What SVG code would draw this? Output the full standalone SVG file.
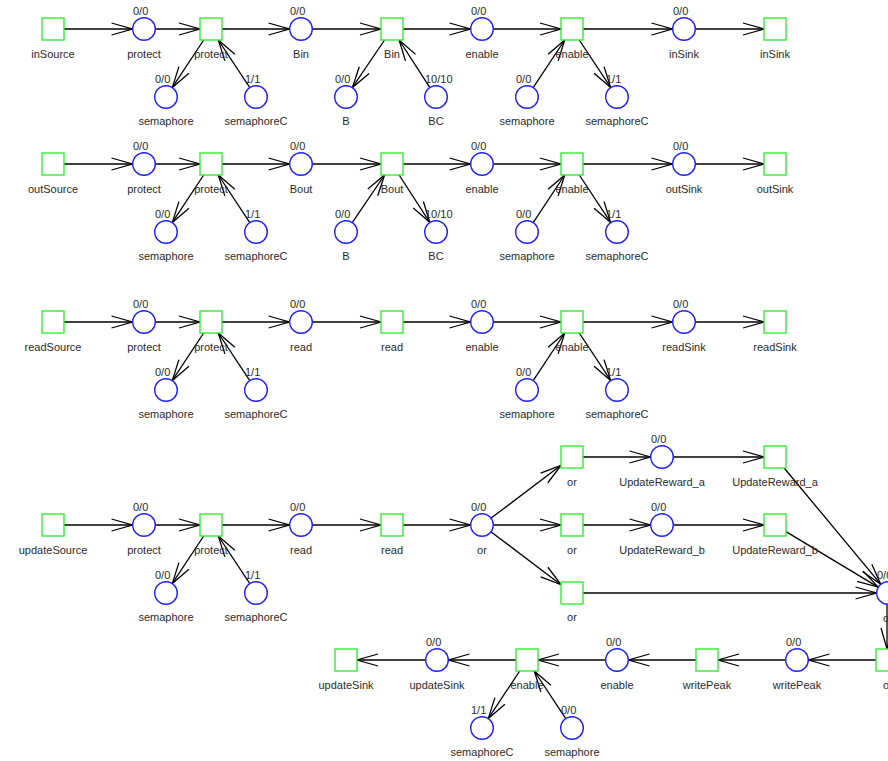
<svg xmlns="http://www.w3.org/2000/svg" width="888" height="761" viewBox="0 0 888 761">
<style>
.p{fill:#fff;stroke:#1f1fff;stroke-width:1.4}
.t{fill:#fff;stroke:#33ee33;stroke-width:1.4}
text{font-family:"Liberation Sans",Arial,sans-serif;font-size:11px;fill:#2a2a2a}
.n{text-anchor:middle}
.m{text-anchor:start}
#edges line{stroke:#000;stroke-width:1.3;marker-end:url(#arr)}
</style>
<defs>
<marker id="arr" markerUnits="userSpaceOnUse" markerWidth="30" markerHeight="20" refX="0" refY="0" orient="auto" viewBox="-25 -10 30 20" overflow="visible">
<path d="M-21,-6 L0,0 L-21,6" fill="none" stroke="#000" stroke-width="1.3"/>
</marker>
</defs>
<rect width="888" height="761" fill="#fff"/>
<g id="edges">
<line x1="64" y1="29" x2="132.5" y2="29"/>
<line x1="155.5" y1="29" x2="200" y2="29"/>
<line x1="222" y1="29" x2="289.5" y2="29"/>
<line x1="312.5" y1="29" x2="381" y2="29"/>
<line x1="403" y1="29" x2="470.5" y2="29"/>
<line x1="493.5" y1="29" x2="561" y2="29"/>
<line x1="583" y1="29" x2="672.5" y2="29"/>
<line x1="695.5" y1="29" x2="764" y2="29"/>
<line x1="203.7" y1="40" x2="172.35" y2="87.41"/>
<line x1="249.65" y1="87.41" x2="218.28" y2="40"/>
<line x1="384.56" y1="40" x2="352.44" y2="87.47"/>
<line x1="429.75" y1="87.35" x2="399.12" y2="40"/>
<line x1="533.35" y1="87.41" x2="564.72" y2="40"/>
<line x1="579.28" y1="40" x2="610.65" y2="87.41"/>
<line x1="64" y1="164" x2="132.5" y2="164"/>
<line x1="155.5" y1="164" x2="200" y2="164"/>
<line x1="222" y1="164" x2="289.5" y2="164"/>
<line x1="312.5" y1="164" x2="381" y2="164"/>
<line x1="403" y1="164" x2="470.5" y2="164"/>
<line x1="493.5" y1="164" x2="561" y2="164"/>
<line x1="583" y1="164" x2="672.5" y2="164"/>
<line x1="695.5" y1="164" x2="764" y2="164"/>
<line x1="203.7" y1="175" x2="172.35" y2="222.41"/>
<line x1="249.65" y1="222.41" x2="218.28" y2="175"/>
<line x1="352.44" y1="222.47" x2="384.56" y2="175"/>
<line x1="399.12" y1="175" x2="429.75" y2="222.35"/>
<line x1="533.35" y1="222.41" x2="564.72" y2="175"/>
<line x1="579.28" y1="175" x2="610.65" y2="222.41"/>
<line x1="64" y1="322" x2="132.5" y2="322"/>
<line x1="155.5" y1="322" x2="200" y2="322"/>
<line x1="222" y1="322" x2="289.5" y2="322"/>
<line x1="312.5" y1="322" x2="381" y2="322"/>
<line x1="403" y1="322" x2="470.5" y2="322"/>
<line x1="493.5" y1="322" x2="561" y2="322"/>
<line x1="583" y1="322" x2="672.5" y2="322"/>
<line x1="695.5" y1="322" x2="764" y2="322"/>
<line x1="203.7" y1="333" x2="172.35" y2="380.41"/>
<line x1="249.65" y1="380.41" x2="218.28" y2="333"/>
<line x1="533.35" y1="380.41" x2="564.72" y2="333"/>
<line x1="579.28" y1="333" x2="610.65" y2="380.41"/>
<line x1="64" y1="525" x2="132.5" y2="525"/>
<line x1="155.5" y1="525" x2="200" y2="525"/>
<line x1="222" y1="525" x2="289.5" y2="525"/>
<line x1="312.5" y1="525" x2="381" y2="525"/>
<line x1="403" y1="525" x2="470.5" y2="525"/>
<line x1="203.7" y1="536" x2="172.35" y2="583.41"/>
<line x1="249.65" y1="583.41" x2="218.28" y2="536"/>
<line x1="491.18" y1="518.07" x2="561" y2="465.31"/>
<line x1="493.5" y1="525" x2="561" y2="525"/>
<line x1="491.18" y1="531.93" x2="561" y2="584.69"/>
<line x1="583" y1="457" x2="650.5" y2="457"/>
<line x1="673.5" y1="457" x2="764" y2="457"/>
<line x1="583" y1="525" x2="650.5" y2="525"/>
<line x1="673.5" y1="525" x2="764" y2="525"/>
<line x1="784.14" y1="468" x2="880.65" y2="584.15"/>
<line x1="786" y1="531.6" x2="878.15" y2="587.07"/>
<line x1="583" y1="593" x2="876.5" y2="593"/>
<line x1="887" y1="604.5" x2="887" y2="649"/>
<line x1="876" y1="660" x2="808.5" y2="660"/>
<line x1="785.5" y1="660" x2="718" y2="660"/>
<line x1="696" y1="660" x2="628.5" y2="660"/>
<line x1="605.5" y1="660" x2="538" y2="660"/>
<line x1="516" y1="660" x2="448.5" y2="660"/>
<line x1="425.5" y1="660" x2="357" y2="660"/>
<line x1="519.72" y1="671" x2="488.35" y2="718.41"/>
<line x1="565.65" y1="718.41" x2="534.28" y2="671"/>
</g>

<g id="r1-inSource-t"><rect class="t" x="42" y="18" width="22" height="22"/><text class="n" x="53" y="58">inSource</text></g>
<g id="r1-protect-p"><circle class="p" cx="144" cy="29" r="11.3"/><text class="m" x="133" y="15">0/0</text><text class="n" x="144" y="58">protect</text></g>
<g id="r1-protect-t"><rect class="t" x="200" y="18" width="22" height="22"/><text class="n" x="211" y="58">protect</text></g>
<g id="r1-Bin-p"><circle class="p" cx="301" cy="29" r="11.3"/><text class="m" x="290" y="15">0/0</text><text class="n" x="301" y="58">Bin</text></g>
<g id="r1-Bin-t"><rect class="t" x="381" y="18" width="22" height="22"/><text class="n" x="392" y="58">Bin</text></g>
<g id="r1-enable-p"><circle class="p" cx="482" cy="29" r="11.3"/><text class="m" x="471" y="15">0/0</text><text class="n" x="482" y="58">enable</text></g>
<g id="r1-enable-t"><rect class="t" x="561" y="18" width="22" height="22"/><text class="n" x="572" y="58">enable</text></g>
<g id="r1-inSink-p"><circle class="p" cx="684" cy="29" r="11.3"/><text class="m" x="673" y="15">0/0</text><text class="n" x="684" y="58">inSink</text></g>
<g id="r1-inSink-t"><rect class="t" x="764" y="18" width="22" height="22"/><text class="n" x="775" y="58">inSink</text></g>
<g id="r1-semaphore-p"><circle class="p" cx="166" cy="97" r="11.3"/><text class="m" x="155" y="83">0/0</text><text class="n" x="166" y="125">semaphore</text></g>
<g id="r1-semaphoreC-p"><circle class="p" cx="256" cy="97" r="11.3"/><text class="m" x="245" y="83">1/1</text><text class="n" x="256" y="125">semaphoreC</text></g>
<g id="r1-B-p"><circle class="p" cx="346" cy="97" r="11.3"/><text class="m" x="335" y="83">0/0</text><text class="n" x="346" y="125">B</text></g>
<g id="r1-BC-p"><circle class="p" cx="436" cy="97" r="11.3"/><text class="m" x="425" y="83">10/10</text><text class="n" x="436" y="125">BC</text></g>
<g id="r1-semaphore2-p"><circle class="p" cx="527" cy="97" r="11.3"/><text class="m" x="516" y="83">0/0</text><text class="n" x="527" y="125">semaphore</text></g>
<g id="r1-semaphoreC2-p"><circle class="p" cx="617" cy="97" r="11.3"/><text class="m" x="606" y="83">1/1</text><text class="n" x="617" y="125">semaphoreC</text></g>

<g id="r2-outSource-t"><rect class="t" x="42" y="153" width="22" height="22"/><text class="n" x="53" y="193">outSource</text></g>
<g id="r2-protect-p"><circle class="p" cx="144" cy="164" r="11.3"/><text class="m" x="133" y="150">0/0</text><text class="n" x="144" y="193">protect</text></g>
<g id="r2-protect-t"><rect class="t" x="200" y="153" width="22" height="22"/><text class="n" x="211" y="193">protect</text></g>
<g id="r2-Bout-p"><circle class="p" cx="301" cy="164" r="11.3"/><text class="m" x="290" y="150">0/0</text><text class="n" x="301" y="193">Bout</text></g>
<g id="r2-Bout-t"><rect class="t" x="381" y="153" width="22" height="22"/><text class="n" x="392" y="193">Bout</text></g>
<g id="r2-enable-p"><circle class="p" cx="482" cy="164" r="11.3"/><text class="m" x="471" y="150">0/0</text><text class="n" x="482" y="193">enable</text></g>
<g id="r2-enable-t"><rect class="t" x="561" y="153" width="22" height="22"/><text class="n" x="572" y="193">enable</text></g>
<g id="r2-outSink-p"><circle class="p" cx="684" cy="164" r="11.3"/><text class="m" x="673" y="150">0/0</text><text class="n" x="684" y="193">outSink</text></g>
<g id="r2-outSink-t"><rect class="t" x="764" y="153" width="22" height="22"/><text class="n" x="775" y="193">outSink</text></g>
<g id="r2-semaphore-p"><circle class="p" cx="166" cy="232" r="11.3"/><text class="m" x="155" y="218">0/0</text><text class="n" x="166" y="260">semaphore</text></g>
<g id="r2-semaphoreC-p"><circle class="p" cx="256" cy="232" r="11.3"/><text class="m" x="245" y="218">1/1</text><text class="n" x="256" y="260">semaphoreC</text></g>
<g id="r2-B-p"><circle class="p" cx="346" cy="232" r="11.3"/><text class="m" x="335" y="218">0/0</text><text class="n" x="346" y="260">B</text></g>
<g id="r2-BC-p"><circle class="p" cx="436" cy="232" r="11.3"/><text class="m" x="425" y="218">10/10</text><text class="n" x="436" y="260">BC</text></g>
<g id="r2-semaphore2-p"><circle class="p" cx="527" cy="232" r="11.3"/><text class="m" x="516" y="218">0/0</text><text class="n" x="527" y="260">semaphore</text></g>
<g id="r2-semaphoreC2-p"><circle class="p" cx="617" cy="232" r="11.3"/><text class="m" x="606" y="218">1/1</text><text class="n" x="617" y="260">semaphoreC</text></g>

<g id="r3-readSource-t"><rect class="t" x="42" y="311" width="22" height="22"/><text class="n" x="53" y="351">readSource</text></g>
<g id="r3-protect-p"><circle class="p" cx="144" cy="322" r="11.3"/><text class="m" x="133" y="308">0/0</text><text class="n" x="144" y="351">protect</text></g>
<g id="r3-protect-t"><rect class="t" x="200" y="311" width="22" height="22"/><text class="n" x="211" y="351">protect</text></g>
<g id="r3-read-p"><circle class="p" cx="301" cy="322" r="11.3"/><text class="m" x="290" y="308">0/0</text><text class="n" x="301" y="351">read</text></g>
<g id="r3-read-t"><rect class="t" x="381" y="311" width="22" height="22"/><text class="n" x="392" y="351">read</text></g>
<g id="r3-enable-p"><circle class="p" cx="482" cy="322" r="11.3"/><text class="m" x="471" y="308">0/0</text><text class="n" x="482" y="351">enable</text></g>
<g id="r3-enable-t"><rect class="t" x="561" y="311" width="22" height="22"/><text class="n" x="572" y="351">enable</text></g>
<g id="r3-readSink-p"><circle class="p" cx="684" cy="322" r="11.3"/><text class="m" x="673" y="308">0/0</text><text class="n" x="684" y="351">readSink</text></g>
<g id="r3-readSink-t"><rect class="t" x="764" y="311" width="22" height="22"/><text class="n" x="775" y="351">readSink</text></g>
<g id="r3-semaphore-p"><circle class="p" cx="166" cy="390" r="11.3"/><text class="m" x="155" y="376">0/0</text><text class="n" x="166" y="418">semaphore</text></g>
<g id="r3-semaphoreC-p"><circle class="p" cx="256" cy="390" r="11.3"/><text class="m" x="245" y="376">1/1</text><text class="n" x="256" y="418">semaphoreC</text></g>
<g id="r3-semaphore2-p"><circle class="p" cx="527" cy="390" r="11.3"/><text class="m" x="516" y="376">0/0</text><text class="n" x="527" y="418">semaphore</text></g>
<g id="r3-semaphoreC2-p"><circle class="p" cx="617" cy="390" r="11.3"/><text class="m" x="606" y="376">1/1</text><text class="n" x="617" y="418">semaphoreC</text></g>

<g id="r4-updateSource-t"><rect class="t" x="42" y="514" width="22" height="22"/><text class="n" x="53" y="554">updateSource</text></g>
<g id="r4-protect-p"><circle class="p" cx="144" cy="525" r="11.3"/><text class="m" x="133" y="511">0/0</text><text class="n" x="144" y="554">protect</text></g>
<g id="r4-protect-t"><rect class="t" x="200" y="514" width="22" height="22"/><text class="n" x="211" y="554">protect</text></g>
<g id="r4-read-p"><circle class="p" cx="301" cy="525" r="11.3"/><text class="m" x="290" y="511">0/0</text><text class="n" x="301" y="554">read</text></g>
<g id="r4-read-t"><rect class="t" x="381" y="514" width="22" height="22"/><text class="n" x="392" y="554">read</text></g>
<g id="r4-or-p"><circle class="p" cx="482" cy="525" r="11.3"/><text class="m" x="471" y="511">0/0</text><text class="n" x="482" y="554">or</text></g>
<g id="r4-or-t-a"><rect class="t" x="561" y="446" width="22" height="22"/><text class="n" x="572" y="486">or</text></g>
<g id="r4-or-t-b"><rect class="t" x="561" y="514" width="22" height="22"/><text class="n" x="572" y="554">or</text></g>
<g id="r4-or-t-c"><rect class="t" x="561" y="582" width="22" height="22"/><text class="n" x="572" y="621">or</text></g>
<g id="r4-UpdateReward_a-p"><circle class="p" cx="662" cy="457" r="11.3"/><text class="m" x="651" y="443">0/0</text><text class="n" x="662" y="486">UpdateReward_a</text></g>
<g id="r4-UpdateReward_b-p"><circle class="p" cx="662" cy="525" r="11.3"/><text class="m" x="651" y="511">0/0</text><text class="n" x="662" y="554">UpdateReward_b</text></g>
<g id="r4-UpdateReward_a-t"><rect class="t" x="764" y="446" width="22" height="22"/><text class="n" x="775" y="486">UpdateReward_a</text></g>
<g id="r4-UpdateReward_b-t"><rect class="t" x="764" y="514" width="22" height="22"/><text class="n" x="775" y="554">UpdateReward_b</text></g>
<g id="r4-or-p2"><circle class="p" cx="888" cy="593" r="11.3"/><text class="m" x="877" y="579">0/0</text><text class="n" x="888" y="622">or</text></g>
<g id="r4-semaphore-p"><circle class="p" cx="166" cy="593" r="11.3"/><text class="m" x="155" y="579">0/0</text><text class="n" x="166" y="621">semaphore</text></g>
<g id="r4-semaphoreC-p"><circle class="p" cx="256" cy="593" r="11.3"/><text class="m" x="245" y="579">1/1</text><text class="n" x="256" y="621">semaphoreC</text></g>

<g id="r5-or-t"><rect class="t" x="876" y="649" width="22" height="22"/><text class="n" x="888" y="689">or</text></g>
<g id="r5-writePeak-p"><circle class="p" cx="797" cy="660" r="11.3"/><text class="m" x="786" y="646">0/0</text><text class="n" x="797" y="689">writePeak</text></g>
<g id="r5-writePeak-t"><rect class="t" x="696" y="649" width="22" height="22"/><text class="n" x="707" y="689">writePeak</text></g>
<g id="r5-enable-p"><circle class="p" cx="617" cy="660" r="11.3"/><text class="m" x="606" y="646">0/0</text><text class="n" x="617" y="689">enable</text></g>
<g id="r5-enable-t"><rect class="t" x="516" y="649" width="22" height="22"/><text class="n" x="527" y="689">enable</text></g>
<g id="r5-updateSink-p"><circle class="p" cx="437" cy="660" r="11.3"/><text class="m" x="426" y="646">0/0</text><text class="n" x="437" y="689">updateSink</text></g>
<g id="r5-updateSink-t"><rect class="t" x="335" y="649" width="22" height="22"/><text class="n" x="346" y="689">updateSink</text></g>
<g id="r5-semaphoreC-p"><circle class="p" cx="482" cy="728" r="11.3"/><text class="m" x="471" y="714">1/1</text><text class="n" x="482" y="756">semaphoreC</text></g>
<g id="r5-semaphore-p"><circle class="p" cx="572" cy="728" r="11.3"/><text class="m" x="561" y="714">0/0</text><text class="n" x="572" y="756">semaphore</text></g>
</svg>
